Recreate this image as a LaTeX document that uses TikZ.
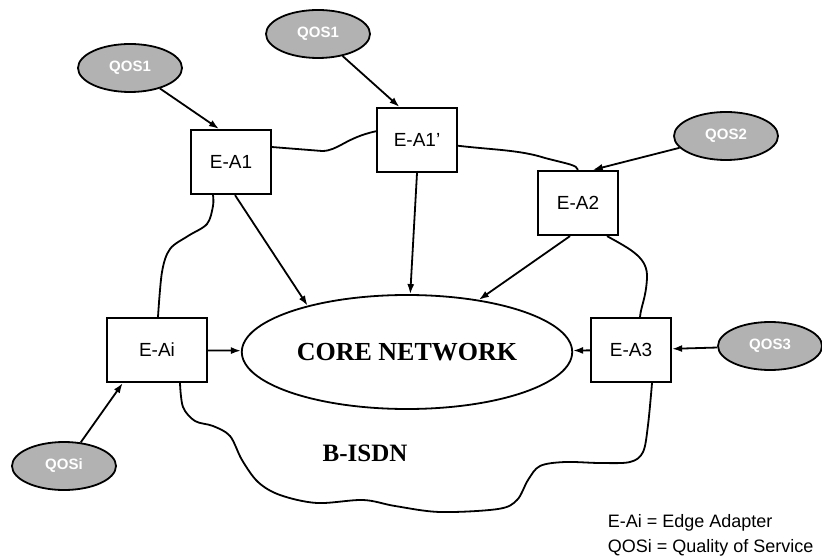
\documentclass[tikz,border=0pt]{standalone}
\usepackage{fontspec}
\setmainfont{Liberation Serif}
\setsansfont{Liberation Sans}
\usetikzlibrary{shapes.geometric,calc,arrows.meta}

\begin{document}
\begin{tikzpicture}[x=0.5pt,y=-0.5pt,line width=0.9pt]
  \useasboundingbox (0,0) rectangle (822,560);
  \begin{scope}[
    every node/.style={
      draw,
      rectangle,
      line width=1.1pt,
      font=\sffamily\fontsize{9.5}{10}\selectfont,
      minimum width=40pt,
      minimum height=32pt,
      inner sep=0pt,
    },
    ]
    \node (ea1)  at (231,162) {E-A1};
    \node (ea1p) at (417,140) {E-A1'};
    \node (ea2)  at (578,203) {E-A2};
    \node (ea3)  at (631,350) {E-A3};
    \node[minimum width=50pt] (eai) at (157,350) {E-Ai};
  \end{scope}
  \begin{scope}[
    every node/.style={
      draw,
      ellipse,
      fill=gray!60,
      text=white,
      font=\sffamily\bfseries\fontsize{7.5}{9}\selectfont,
      minimum width=52pt,
      minimum height=24pt,
      inner sep=0pt,
    },
    ]
    \node (qos1)  at (130,68)  {QOS1};
    \node (qos1b) at (318,34)  {QOS1};
    \node (qos2)  at (726,136) {QOS2};
    \node (qos3)  at (770,346) {QOS3};
    \node (qosi)  at (64,466)  {QOSi};
  \end{scope}
  \node[draw,ellipse,minimum width=160pt,minimum height=57pt,
    font=\bfseries\fontsize{13}{15}\selectfont] (core) at (407,352) {CORE NETWORK};
  \node[font=\bfseries\fontsize{12.5}{14}\selectfont] (bisdn) at (365,453) {B-ISDN};
  % the B-ISDN cloud
  \coordinate (ea2b) at ($(ea2.south)+(29,0)$);
  \coordinate (ea3t) at ($(ea3.north)+(9,0)$);
  \coordinate (ea3b) at ($(ea3.south)+(21,0)$);
  \coordinate (eaib) at ($(eai.south)+(23,0)$);
  \coordinate (eait) at ($(eai.north)+(1,0)$);
  \coordinate (ea1b) at ($(ea1.south)+(-18,0)$);
  \draw (ea1.20) -- (322,151) .. controls (338,151) and (345,138) .. (ea1p.168);
  \draw (ea1p.-8) .. controls (495,150) and (520,150) .. (545,158)
    .. controls (568,164) and (577,165) .. (ea2.north);
  \draw (ea2b) .. controls (632,250) and (648,258) .. (647,278)
    .. controls (646,298) and (641,306) .. (ea3t);
  \draw plot[smooth,tension=0.55] coordinates {
    (ea3b) (648,425) (643,452) (630,462) (600,463) (565,462) (540,466)
    (528,480) (517,500) (498,509) (440,512) (395,506) (363,500) (317,503)
    (280,495) (258,482) (242,460) (230,436) (213,426) (195,421) (183,407)
    (eaib)};
  \draw plot[smooth,tension=0.55] coordinates {
    (eait) (162,272) (170,249) (188,236) (207,224) (213,206) (ea1b)};
  % arrows
  \begin{scope}[
    every edge/.append style={>={Latex[length=5pt,width=3.5pt]}},
    ]
    \path[->]
    (qos1)  edge (ea1.110)
    (qos1b) edge (ea1p.118)
    (qos2)  edge (ea2.66)
    (qos3)  edge (ea3)
    (qosi)  edge (eai.224)
    ($(ea1.south)+(4,0)$)  edge (core.155)
    (ea1p.south)           edge (core)
    ($(ea2.south)+(-8,0)$) edge (core.36)
    (ea3)   edge (core)
    (eai)   edge (core);
  \end{scope}
  \begin{scope}[every node/.style={anchor=base west,inner sep=0pt,
      font=\sffamily\fontsize{9}{11}\selectfont}]
    \node (leg1) at (607,527) {E-Ai = Edge Adapter};
    \node (leg2) at (607,552) {QOSi = Quality of Service};
  \end{scope}
\end{tikzpicture}
\end{document}
